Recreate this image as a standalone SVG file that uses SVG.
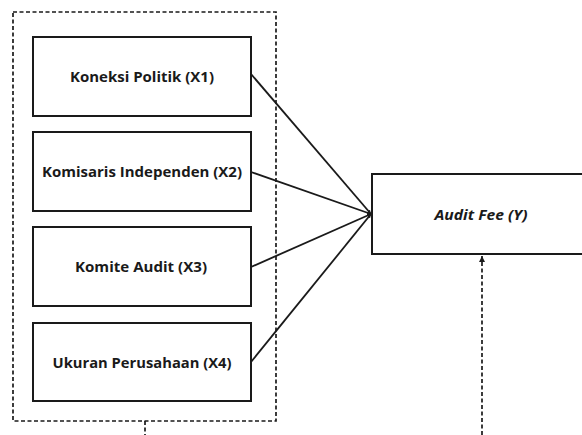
<svg xmlns="http://www.w3.org/2000/svg" width="582" height="435" viewBox="0 0 582 435">
<style>
.box{fill:#fff;stroke:#1a1a1a;stroke-width:2}
.lbl{font-family:"Open Sans","Liberation Sans",sans-serif;font-weight:bold;font-size:14.5px;fill:#1a1a1a;text-anchor:middle}
.dash{fill:none;stroke:#1a1a1a;stroke-width:1.7;stroke-dasharray:4,2.5}
.con{stroke:#1a1a1a;stroke-width:1.8;fill:none}
</style>
<defs>
<marker id="ah" viewBox="0 0 6 6" refX="6" refY="3" markerWidth="4" markerHeight="4" orient="auto" markerUnits="userSpaceOnUse">
<path d="M0,0 L6,3 L0,6 z" fill="#1a1a1a"/>
</marker>
<marker id="ah2" viewBox="0 0 6 6" refX="6" refY="3" markerWidth="6" markerHeight="6" orient="auto" markerUnits="userSpaceOnUse">
<path d="M0,0 L6,3 L0,6 z" fill="#1a1a1a"/>
</marker>
</defs>
<rect width="582" height="435" fill="#fff"/>
<g id="group-x">
<rect class="dash" x="13" y="12" width="263" height="409"/>
</g>
<g id="connectors">
<line class="con" x1="251" y1="74" x2="371" y2="214" marker-end="url(#ah)"/>
<line class="con" x1="251" y1="172" x2="371" y2="214" marker-end="url(#ah)"/>
<line class="con" x1="251" y1="267" x2="371" y2="214" marker-end="url(#ah)"/>
<line class="con" x1="251" y1="362" x2="371" y2="214" marker-end="url(#ah)"/>
<line class="dash" x1="145" y1="421" x2="145" y2="435"/>
<line class="dash" x1="482" y1="435" x2="482" y2="256" marker-end="url(#ah2)"/>
</g>
<g id="x1">
<rect class="box" x="33" y="37" width="218" height="79"/>
<text class="lbl" x="142" y="82" textLength="144" lengthAdjust="spacingAndGlyphs">Koneksi Politik (X1)</text>
</g>
<g id="x2">
<rect class="box" x="33" y="132" width="218" height="79"/>
<text class="lbl" x="142" y="177" textLength="200" lengthAdjust="spacingAndGlyphs">Komisaris Independen (X2)</text>
</g>
<g id="x3">
<rect class="box" x="33" y="227" width="218" height="79"/>
<text class="lbl" x="141" y="272" textLength="132" lengthAdjust="spacingAndGlyphs">Komite Audit (X3)</text>
</g>
<g id="x4">
<rect class="box" x="33" y="323" width="218" height="78"/>
<text class="lbl" x="142" y="368" textLength="179" lengthAdjust="spacingAndGlyphs">Ukuran Perusahaan (X4)</text>
</g>
<g id="y">
<rect class="box" x="372" y="174" width="240" height="80"/>
<text class="lbl" x="481" y="220" font-style="italic" textLength="93" lengthAdjust="spacingAndGlyphs">Audit Fee (Y)</text>
</g>
</svg>
